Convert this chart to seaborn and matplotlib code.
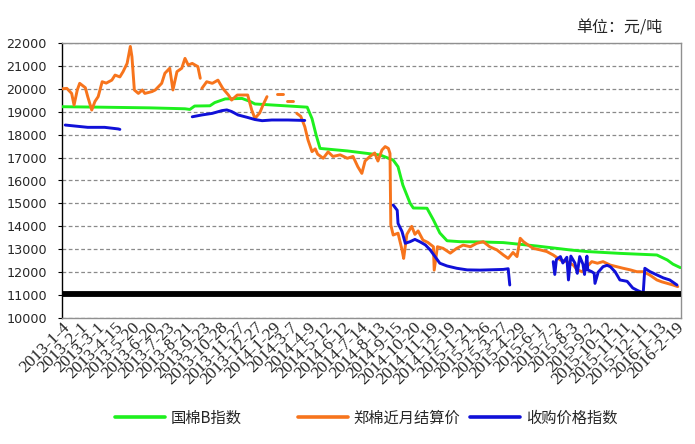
import numpy as np
import pandas as pd
import matplotlib
matplotlib.use("Agg")
import matplotlib.pyplot as plt
from matplotlib.lines import Line2D
import seaborn as sns

# ---------------- data (trading-day index, value in 元/吨) ----------------
green_day = [0, 47, 109, 153, 159, 165, 184, 190, 203, 224, 234, 240, 259, 296, 305, 311, 316, 321,
             355, 396, 412, 418, 424, 433, 437, 454, 462, 470, 479, 495, 520, 549, 591, 632, 653, 694,
             740, 753, 760, 769]
green_val = [19220, 19200, 19170, 19130, 19100, 19250, 19260, 19400, 19560, 19580, 19450, 19340, 19300,
             19220, 19200, 18700, 18000, 17400, 17290, 17110, 16890, 16600, 15800, 15010, 14800, 14790,
             14280, 13710, 13370, 13330, 13320, 13290, 13140, 12970, 12900, 12820, 12750, 12530, 12350,
             12200]

orange_day = [0, 6, 12, 15, 19, 22, 29, 32, 37, 41, 45, 50, 55, 62, 66, 72, 76, 81, 85, 87, 90, 95, 100,
              103, 112, 116, 124, 128, 134, 138, 143, 149, 153, 157, 162, 169, 172, 173,
              174, 180, 187, 194, 200, 207, 211, 218, 225, 231, 236, 240, 246, 250, 255, 260,
              267, 275, 277,
              280, 287, 289,
              292, 297, 302, 306, 311, 315, 318, 325, 331, 337, 346, 355, 362, 368, 373, 377, 383, 389,
              393, 398, 402, 406, 408, 409, 412, 418, 423, 425, 429, 435, 439, 443, 449, 455, 462, 463,
              467, 474, 483, 491, 499, 508, 516, 524, 532, 541, 549, 555, 561, 566, 570, 574, 580, 586,
              595, 603, 611, 620, 628, 636, 641, 647, 653, 659, 666, 673, 682, 690, 698, 707, 715, 723,
              731, 740, 746, 753, 760, 766]
orange_val = [20000, 20020, 19800, 19290, 19950, 20240, 20050, 19660, 19075, 19450, 19660, 20310, 20250,
              20380, 20600, 20520, 20750, 21110, 21850, 21400, 19950, 19800, 19950, 19800, 19880, 19950,
              20240, 20680, 20900, 19950, 20750, 20900, 21330, 21040, 21110, 20970, 20460, None,
              20020, 20310, 20240, 20380, 20020, 19730, 19510, 19730, 19730, 19730, 19075, 18710, 18950,
              19290, 19660, None,
              19760, 19760, None,
              19470, 19470, None,
              18930, 18800, 18350, 17770, 17260, 17380, 17150, 16970, 17250, 17050, 17120, 16970, 17050,
              16600, 16310, 16850, 17050, 17200, 16850, 17330, 17480, 17400, 17180, 14060, 13620, 13700,
              12970, 12600, 13650, 14000, 13650, 13800, 13400, 13300, 13110, 12090, 13110, 13040, 12830,
              13040, 13180, 13110, 13260, 13330, 13110, 12970, 12750, 12600, 12860, 12680, 13480, 13330,
              13180, 13040, 12970, 12900, 12750, 12530, 12460, 12310, 12100, 12020, 12240, 12460, 12390,
              12460, 12310, 12240, 12170, 12100, 12020, 12020, 11880, 11660, 11580, 11510, 11440, 11370]

blue_day = [4, 32, 53, 70, 72, 73,
            162, 174, 187, 199, 205, 211, 219, 231, 240, 249, 261, 281, 302, 303,
            412, 417, 418, 423, 427, 433, 439, 445, 452, 458, 464, 470, 479, 491, 504, 520, 549, 555,
            557, 558,
            611, 613, 615, 620, 623, 628, 630, 633, 638, 641, 644, 648, 650, 653, 654, 659, 662, 663,
            667, 673, 678, 682, 688, 694, 703, 710, 716, 723, 725, 731, 740, 748, 756, 765]
blue_val = [18420, 18320, 18320, 18250, 18230, None,
            18780, 18860, 18930, 19050, 19080, 19010, 18860, 18750, 18660, 18610, 18640, 18640, 18620,
            None,
            14930, 14700, 14130, 13770, 13260, 13330, 13430, 13330, 13190, 12970, 12680, 12390, 12270,
            12170, 12100, 12090, 12120, 12150, 11440, None,
            12460, 11900, 12550, 12680, 12400, 12650, 11660, 12700, 12400, 11950, 12680, 12350, 11900,
            12700, 12100, 12020, 11950, 11510, 12000, 12240, 12300, 12240, 12020, 11660, 11600, 11310,
            11200, 11090, 12170, 12030, 11880, 11750, 11660, 11440]

tick_labels = ["2013-1-4", "2013-2-1", "2013-3-1", "2013-4-15", "2013-5-20", "2013-6-20",
               "2013-7-23", "2013-8-21", "2013-9-23", "2013-10-28", "2013-11-27", "2013-12-27",
               "2014-1-29", "2014-3-7", "2014-4-9", "2014-5-12", "2014-6-12", "2014-7-14",
               "2014-8-13", "2014-9-15", "2014-10-20", "2014-11-19", "2014-12-19", "2015-1-21",
               "2015-2-26", "2015-3-27", "2015-4-29", "2015-6-1", "2015-7-2", "2015-8-3",
               "2015-9-2", "2015-10-12", "2015-11-11", "2015-12-11", "2016-1-13", "2016-2-19"]

names = ["国棉B指数", "郑棉近月结算价", "收购价格指数"]
colors = ["#1EF01E", "#F7741C", "#1010D8"]
baseline = 11030

# ---------------- plotting ----------------
sns.set_theme(style="white")
plt.rcParams["font.family"] = ["Noto Sans CJK SC", "DejaVu Sans"]

fig = plt.figure(figsize=(6.95, 4.44), dpi=100)
ax = fig.add_axes([62 / 695, 1 - 318 / 444, (681 - 62) / 695, (318 - 43) / 444])

def segments(days, vals):
    df = pd.DataFrame({"day": days, "val": pd.array(vals, dtype="Float64")})
    df["seg"] = df["val"].isna().cumsum()
    df = df.dropna().astype({"val": float})
    return df

for days, vals, col in [(green_day, green_val, colors[0]),
                        (orange_day, orange_val, colors[1]),
                        (blue_day, blue_val, colors[2])]:
    df = segments(days, vals)
    for _, g in df.groupby("seg"):
        sns.lineplot(data=g, x="day", y="val", ax=ax, color=col, lw=2.1,
                     estimator=None, sort=False, legend=False, zorder=3)

ax.axhline(baseline, color="black", lw=4.2, zorder=4)

ax.set_xlim(0, 770)
ax.set_ylim(10000, 22000)
ax.set_yticks(np.arange(10000, 22001, 1000))
ax.yaxis.grid(True, color="#8a8a8a", ls=(0, (3, 2)), lw=0.9)
ax.xaxis.grid(False)
ax.set_xlabel("")
ax.set_ylabel("")

tick_pos = np.linspace(0, 764, len(tick_labels))
ax.set_xticks(tick_pos)
ax.set_xticklabels(tick_labels, rotation=45, ha="right", rotation_mode="anchor",
                   family="Liberation Serif", fontsize=12.5)
for t in ax.get_yticklabels():
    t.set_family("DejaVu Sans")
    t.set_fontsize(9.2)
ax.tick_params(axis="x", length=0, pad=1)
ax.tick_params(axis="y", length=3, width=0.8, color="black", pad=8, direction="out", left=True)

for s in ["top", "right", "bottom"]:
    ax.spines[s].set_color("#909090")
    ax.spines[s].set_linewidth(1.0)
ax.spines["left"].set_color("black")
ax.spines["left"].set_linewidth(1.0)

legend_x = [115, 298, 470]
for name, col, lx in zip(names, colors, legend_x):
    fig.legend([Line2D([0], [0], color=col, lw=2.6)], [name], loc="center left",
               bbox_to_anchor=(lx / 695, 1 - 418 / 444), frameon=False, fontsize=11,
               handlelength=3.3, handletextpad=0.35, borderpad=0, borderaxespad=0)

fig.text(662 / 695, 1 - 28 / 444, "单位：元/吨", ha="right", va="center", fontsize=11.5)

fig.savefig("out.png", dpi=100)
